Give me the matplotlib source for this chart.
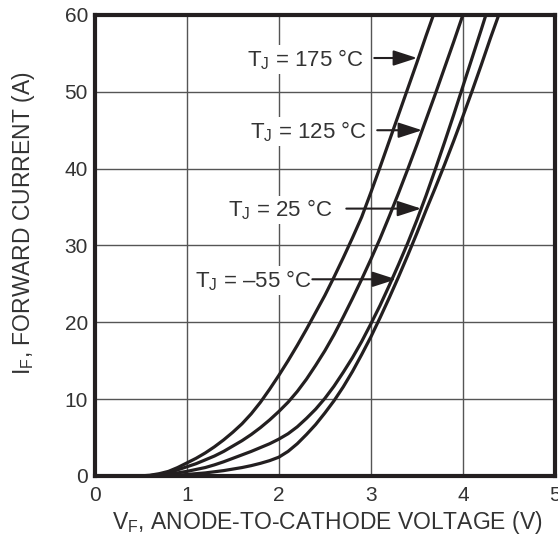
import matplotlib
matplotlib.use('Agg')
import matplotlib.pyplot as plt

plt.rcParams['font.family'] = ['Liberation Sans', 'DejaVu Sans']
plt.rcParams['mathtext.fontset'] = 'custom'
plt.rcParams['mathtext.rm'] = 'Liberation Sans'

# forward voltage (V) vs forward current (A)
v_175 = [0.49, 0.6, 0.7, 0.8, 0.9, 1.0, 1.1, 1.2, 1.3, 1.4, 1.5, 1.6, 1.7, 1.8, 1.9,
         2.0, 2.1, 2.2, 2.3, 2.4, 2.5, 2.6, 2.7, 2.8, 2.9, 3.0, 3.1, 3.2, 3.3, 3.4,
         3.5, 3.6, 3.68]
i_175 = [0, 0.1, 0.3, 0.6, 1.1, 1.7, 2.3, 3.0, 3.8, 4.7, 5.7, 6.8, 8.1, 9.6, 11.3,
         13.1, 15.0, 17.0, 19.1, 21.3, 23.5, 25.9, 28.4, 31.0, 33.7, 36.9, 40.2, 43.6, 47.0, 50.4,
         53.8, 57.3, 60]

v_125 = [0.49, 0.6, 0.7, 0.8, 0.9, 1.0, 1.1, 1.2, 1.3, 1.4, 1.5, 1.6, 1.7, 1.8, 1.9,
         2.0, 2.1, 2.2, 2.3, 2.4, 2.5, 2.6, 2.7, 2.8, 2.9, 3.0, 3.1, 3.2, 3.3, 3.4,
         3.5, 3.6, 3.7, 3.8, 3.9, 4.0]
i_125 = [0, 0.05, 0.2, 0.4, 0.8, 1.2, 1.6, 2.1, 2.6, 3.2, 3.9, 4.6, 5.4, 6.3, 7.3,
         8.4, 9.6, 11.0, 12.6, 14.4, 16.3, 18.4, 20.7, 23.1, 25.6, 28.2, 30.9, 33.8, 36.8, 39.9,
         43.1, 46.4, 49.7, 53.1, 56.5, 60]

v_25 = [0.49, 0.6, 0.7, 0.8, 0.9, 1.0, 1.1, 1.2, 1.3, 1.4, 1.5, 1.6, 1.7, 1.8, 1.9,
        2.0, 2.1, 2.2, 2.3, 2.4, 2.5, 2.6, 2.7, 2.8, 2.9, 3.0, 3.1, 3.2, 3.3, 3.4,
        3.5, 3.6, 3.7, 3.8, 3.9, 4.0, 4.1, 4.2, 4.25]
i_25 = [0, 0.02, 0.08, 0.2, 0.4, 0.6, 0.85, 1.1, 1.45, 1.85, 2.3, 2.75, 3.2, 3.7, 4.2,
        4.8, 5.5, 6.4, 7.5, 8.7, 10.1, 11.7, 13.5, 15.4, 17.5, 19.8, 22.2, 24.8, 27.5, 30.3,
        33.3, 36.5, 39.9, 43.4, 47.0, 50.7, 54.4, 58.1, 60]

v_m55 = [0.49, 0.7, 0.9, 1.0, 1.1, 1.2, 1.3, 1.4, 1.5, 1.6, 1.7, 1.8, 1.9,
         2.0, 2.1, 2.2, 2.3, 2.4, 2.5, 2.6, 2.7, 2.8, 2.9, 3.0, 3.1, 3.2, 3.3, 3.4,
         3.5, 3.6, 3.7, 3.8, 3.9, 4.0, 4.1, 4.2, 4.3, 4.39]
i_m55 = [0, 0.02, 0.1, 0.2, 0.3, 0.4, 0.55, 0.7, 0.9, 1.1, 1.35, 1.65, 2.0,
         2.45, 3.2, 4.2, 5.4, 6.7, 8.2, 9.8, 11.6, 13.6, 15.8, 18.1, 20.6, 23.2, 25.9, 28.7,
         31.6, 34.6, 37.5, 40.5, 43.6, 46.8, 50.1, 53.5, 57.0, 60]

labels = ['T$_\\mathregular{J}$ = 175 °C', 'T$_\\mathregular{J}$ = 125 °C',
          'T$_\\mathregular{J}$ = 25 °C', 'T$_\\mathregular{J}$ = \u201355 °C']
x_ticks = [0, 1, 2, 3, 4, 5]
y_ticks = [0, 10, 20, 30, 40, 50, 60]

# label placement: text left x, arrow y, arrow tail x, arrow tip x
label_pos = [(1.649, 54.4, 3.037, 3.503),
             (1.681, 45.0, 3.069, 3.557),
             (1.442, 34.8, 2.733, 3.547),
             (1.085, 25.6, 2.364, 3.275)]

ink = '#231f20'
txt = '#333333'

fig = plt.figure(figsize=(5.58, 5.35), dpi=100)
ax = fig.add_axes([0.170, 0.1103, 0.8244, 0.8617])

for v, i in [(v_175, i_175), (v_125, i_125), (v_25, i_25), (v_m55, i_m55)]:
    ax.plot(v, i, color=ink, lw=2.3, solid_joinstyle='round', zorder=3)

ax.set_xlim(0, 5)
ax.set_ylim(0, 60)
ax.set_xticks(x_ticks)
ax.set_yticks(y_ticks)
ax.grid(True, color='#555555', lw=1.0, zorder=0)
ax.set_axisbelow(True)
for s in ax.spines.values():
    s.set_linewidth(3.0)
    s.set_color(ink)
ax.tick_params(length=0, labelsize=15, labelcolor=txt)
ax.tick_params(axis='x', pad=7)
ax.tick_params(axis='y', pad=5)

ax.set_xlabel('V$_\\mathregular{F}$, ANODE-TO-CATHODE VOLTAGE (V)', fontsize=16.5, color=txt)
ax.set_ylabel('I$_\\mathregular{F}$, FORWARD CURRENT (A)', fontsize=16.5, color=txt)
ax.xaxis.set_label_coords(0.505, -0.072)
ax.yaxis.set_label_coords(-0.126, 0.549)

for lab, (tx, ay, tail, tip) in zip(labels, label_pos):
    ax.text(tx, ay - 1.05, lab, fontsize=16, color=txt, ha='left', va='baseline',
            bbox=dict(facecolor='white', edgecolor='none', pad=1.5), zorder=2)
    ax.annotate('', xy=(tip, ay), xytext=(tail, ay),
                arrowprops=dict(arrowstyle='-|>,head_length=1.45,head_width=0.47',
                                mutation_scale=10, color=ink, lw=1.5,
                                shrinkA=0, shrinkB=0), zorder=4)

fig.savefig('out.png', dpi=100)
